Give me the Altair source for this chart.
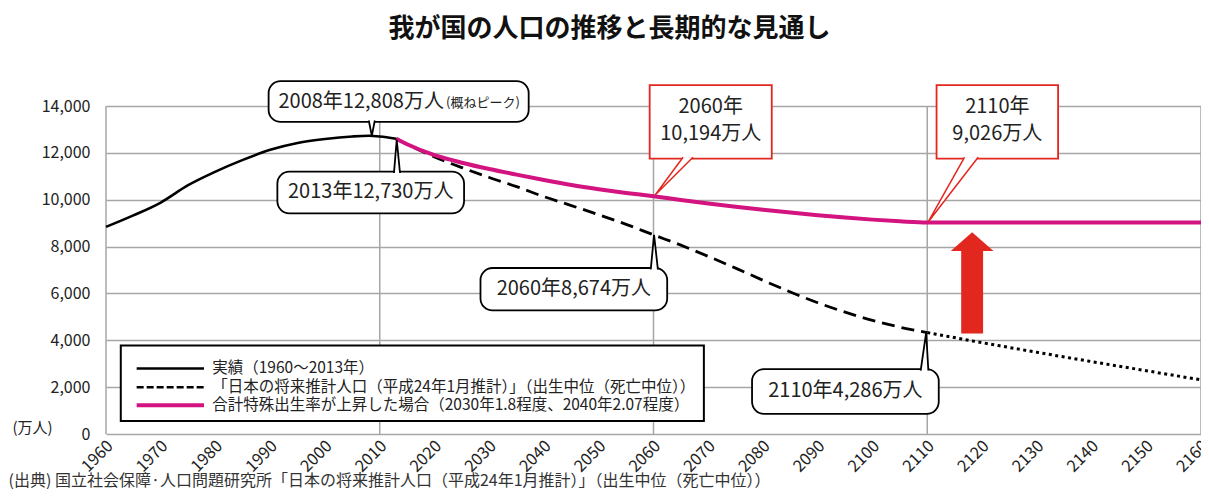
import altair as alt
import pandas as pd

FONT = "Noto Sans CJK JP"
GRID = "#a6a6a6"
PINK = "#d3137f"
RED = "#e2271f"

title_text = "我が国の人口の推移と長期的な見通し"
source_text = "(出典) 国立社会保障·人口問題研究所「日本の将来推計人口（平成24年1月推計）」（出生中位（死亡中位））"
unit_text = "(万人)"

x_ticks = [1960, 1970, 1980, 1990, 2000, 2010, 2020, 2030, 2040, 2050, 2060,
           2070, 2080, 2090, 2100, 2110, 2120, 2130, 2140, 2150, 2160]
y_ticks = [0, 2000, 4000, 6000, 8000, 10000, 12000, 14000]
grid_years = [1960, 2010, 2060, 2110, 2160]

# 実績
actual_years = [1960, 1965, 1970, 1975, 1980, 1985, 1990, 1995, 2000, 2005, 2008, 2010, 2013]
actual_pop = [8840, 9330, 9880, 10620, 11200, 11700, 12130, 12420, 12590, 12700, 12730, 12700, 12600]

# 将来推計（出生中位・死亡中位）
proj_years = [2013, 2015, 2020, 2025, 2030, 2035, 2040, 2045, 2050, 2055, 2060,
              2065, 2070, 2075, 2080, 2085, 2090, 2095, 2100, 2105, 2110]
proj_pop = [12600, 12360, 11830, 11370, 10950, 10560, 10130, 9750, 9360, 8950, 8500,
            8060, 7580, 7080, 6560, 6060, 5600, 5200, 4850, 4560, 4330]

# 参考推計（2110年以降）
ext_years = [2110, 2120, 2130, 2140, 2150, 2160]
ext_pop = [4330, 3900, 3490, 3090, 2700, 2310]

# 出生率が上昇した場合
high_years = [2013, 2015, 2020, 2025, 2030, 2035, 2040, 2045, 2050, 2055, 2060, 2065,
              2070, 2075, 2080, 2085, 2090, 2095, 2100, 2105, 2110, 2120, 2130, 2140, 2150, 2160]
high_pop = [12600, 12370, 11900, 11580, 11310, 11070, 10840, 10630, 10450, 10290, 10150, 9990,
            9840, 9700, 9570, 9450, 9340, 9240, 9150, 9080, 9030, 9030, 9030, 9030, 9030, 9030]

legend_labels = [
    "実績（1960～2013年）",
    "「日本の将来推計人口（平成24年1月推計）」（出生中位（死亡中位））",
    "合計特殊出生率が上昇した場合（2030年1.8程度、2040年2.07程度）",
]

# callouts: text, box (x1, x2, y1, y2), text position, pointer (xa, xb, base y, tip x, tip y)
black_callouts = [
    ("2008年12,808万人", (1989.7, 2037.2, 15060, 13321), (1991.5, 14170), (2008.0, 2009.1, 13321, 2008.55, 12727)),
    ("2013年12,730万人", (1991.3, 2025.4, 11200, 9418), (2008.35, 10309), (2012.6, 2013.7, 11200, 2013.1, 12560)),
    ("2060年8,674万人", (2028.4, 2062.5, 7085, 5273), (2045.45, 6180), (2059.5, 2060.8, 7085, 2060.1, 8500)),
    ("2110年4,286万人", (2078.0, 2112.1, 2770, 861), (2095.05, 1815), (2108.8, 2110.2, 2770, 2109.8, 4330)),
]
red_callouts = [
    (("2060年", "10,194万人"), (2059.3, 2081.6, 14890, 11751), 2070.45, (2065.4, 2067.2, 11751, 2060.3, 10200)),
    (("2110年", "9,026万人"), (2111.7, 2133.9, 14890, 11751), 2122.8, (2116.8, 2119.3, 11751, 2110.2, 9060)),
]
red_line_y = [13957, 12812]

xs = alt.Scale(domain=[1960, 2160], nice=False, zero=False)
ys = alt.Scale(domain=[0, 14000], nice=False)

x_axis = alt.Axis(values=x_ticks, format="d", labelAngle=-45, labelAlign="right", labelBaseline="middle",
                  labelFlush=False, labelPadding=9, labelOffset=4, labelFontSize=16.5, labelColor="#222",
                  labelFont=FONT, ticks=False, domain=False, grid=False,
                  title=source_text, titleX=-98, titleY=46, titleAlign="left", titleBaseline="middle",
                  titleFontSize=16, titleFontWeight="normal", titleColor="#333", titleFont=FONT)
y_axis = alt.Axis(values=y_ticks, format=",d", labelFontSize=16, labelColor="#222", labelPadding=16,
                  labelFont=FONT, ticks=False, domain=False, grid=True, gridColor=GRID, gridWidth=1.5,
                  title=unit_text, titleAngle=0, titleX=-94, titleY=321, titleAlign="left",
                  titleBaseline="middle", titleFontSize=15, titleFontWeight="normal", titleColor="#222",
                  titleFont=FONT)


def X(f):
    return alt.X(f, type="quantitative", scale=xs, axis=x_axis)


def Y(f):
    return alt.Y(f, type="quantitative", scale=ys, axis=y_axis)


def series(years, pops):
    return pd.DataFrame({"year": years, "pop": pops})


def pointer_frames(ptrs):
    area_rows, line_rows = [], []
    for i, (xa, xb, yb, xt, yt) in enumerate(ptrs):
        yb2 = yb - 60 if yt > yb else yb + 60
        area_rows += [{"id": i, "y": yb2, "xa": xa, "xb": xb}, {"id": i, "y": yt, "xa": xt, "xb": xt}]
        line_rows += [{"id": i, "o": 0, "x": xa, "y": yb2}, {"id": i, "o": 1, "x": xt, "y": yt},
                      {"id": i, "o": 2, "x": xb, "y": yb2}]
    return pd.DataFrame(area_rows), pd.DataFrame(line_rows)


def boxes(items):
    return pd.DataFrame([{"x": b[0], "x2": b[1], "y": b[2], "y2": b[3]} for b in items])


vgrid = alt.Chart(pd.DataFrame({"year": grid_years})).mark_rule(
    color=GRID, strokeWidth=1.5).encode(x=X("year"))

dashed = alt.Chart(series(proj_years, proj_pop)).mark_line(
    color="black", strokeWidth=2.8, strokeDash=[13, 7], interpolate="monotone"
).encode(x=X("year"), y=Y("pop"))

dotted = alt.Chart(series(ext_years, ext_pop)).mark_line(
    color="black", strokeWidth=3, strokeDash=[3, 3.5], interpolate="monotone"
).encode(x=X("year"), y=Y("pop"))

high = alt.Chart(series(high_years, high_pop)).mark_line(
    color=PINK, strokeWidth=4, interpolate="monotone"
).encode(x=X("year"), y=Y("pop"))

actual = alt.Chart(series(actual_years, actual_pop)).mark_line(
    color="black", strokeWidth=2.6, interpolate="monotone"
).encode(x=X("year"), y=Y("pop"))

# black rounded callouts
bbox = alt.Chart(boxes([c[1] for c in black_callouts])).mark_rect(
    fill="white", stroke="black", strokeWidth=1.8, cornerRadius=12
).encode(x=X("x"), x2="x2", y=Y("y"), y2="y2")
b_area_df, b_line_df = pointer_frames([c[3] for c in black_callouts])
b_area = alt.Chart(b_area_df).mark_area(orient="horizontal", fill="white").encode(
    y=Y("y"), x=X("xa"), x2="xb", detail="id:N")
b_line = alt.Chart(b_line_df).mark_line(color="black", strokeWidth=1.8).encode(
    x=X("x"), y=Y("y"), detail="id:N", order="o:Q")

b_text_df = pd.DataFrame([{"x": c[2][0], "y": c[2][1], "t": c[0]} for c in black_callouts])
b_text_main = alt.Chart(b_text_df.iloc[1:]).mark_text(
    font=FONT, fontSize=20, color="#222", baseline="middle", align="center"
).encode(x=X("x"), y=Y("y"), text="t:N")
b_text_first = alt.Chart(b_text_df.iloc[:1]).mark_text(
    font=FONT, fontSize=20, color="#222", baseline="middle", align="left"
).encode(x=X("x"), y=Y("y"), text="t:N")
peak_note = alt.Chart(pd.DataFrame({"x": [2022.1], "y": [14140], "t": ["(概ねピーク)"]})).mark_text(
    font=FONT, fontSize=13, color="#222", baseline="middle", align="left"
).encode(x=X("x"), y=Y("y"), text="t:N")

# red square callouts
rbox = alt.Chart(boxes([c[1] for c in red_callouts])).mark_rect(
    fill="white", stroke=RED, strokeWidth=1.8
).encode(x=X("x"), x2="x2", y=Y("y"), y2="y2")
r_area_df, r_line_df = pointer_frames([c[3] for c in red_callouts])
r_area = alt.Chart(r_area_df).mark_area(orient="horizontal", fill="white").encode(
    y=Y("y"), x=X("xa"), x2="xb", detail="id:N")
r_line = alt.Chart(r_line_df).mark_line(color=RED, strokeWidth=1.5).encode(
    x=X("x"), y=Y("y"), detail="id:N", order="o:Q")
r_text_df = pd.DataFrame([{"x": c[2], "y": red_line_y[k], "t": c[0][k]}
                          for c in red_callouts for k in range(2)])
r_text = alt.Chart(r_text_df).mark_text(
    font=FONT, fontSize=20, color="#222", baseline="middle", align="center"
).encode(x=X("x"), y=Y("y"), text="t:N")

# red up arrow
shaft = alt.Chart(pd.DataFrame({"x": [2116.2], "x2": [2120.2], "y": [4285], "y2": [7850]})).mark_rect(
    color=RED).encode(x=X("x"), x2="x2", y=Y("y"), y2="y2")
head = alt.Chart(pd.DataFrame({"id": [0, 0], "y": [7806, 8612], "xa": [2114.3, 2118.2],
                               "xb": [2122.1, 2118.2]})).mark_area(orient="horizontal", color=RED).encode(
    y=Y("y"), x=X("xa"), x2="xb", detail="id:N")

# legend
leg_box = alt.Chart(pd.DataFrame({"x": [1962.7], "x2": [2069.2], "y": [3776], "y2": [552]})).mark_rect(
    fill="white", stroke="black", strokeWidth=2).encode(x=X("x"), x2="x2", y=Y("y"), y2="y2")
leg_y = [2800, 1994, 1230]
leg_styles = [dict(color="black", strokeWidth=2.5), dict(color="black", strokeWidth=2.5, strokeDash=[7, 3]),
              dict(color=PINK, strokeWidth=4)]
leg_rules = [
    alt.Chart(pd.DataFrame({"x": [1965.6], "x2": [1977.9], "y": [leg_y[k]]})).mark_rule(**leg_styles[k]).encode(
        x=X("x"), x2="x2", y=Y("y"))
    for k in range(3)
]
leg_text = alt.Chart(pd.DataFrame({"x": [1979.4] * 3, "y": leg_y, "t": legend_labels})).mark_text(
    font=FONT, fontSize=15.5, color="#222", baseline="middle", align="left"
).encode(x=X("x"), y=Y("y"), text="t:N")

chart = alt.layer(
    vgrid, dashed, dotted, high, actual,
    bbox, b_area, b_line, b_text_first, b_text_main, peak_note,
    rbox, r_area, r_line, r_text,
    shaft, head,
    leg_box, *leg_rules, leg_text,
).properties(
    width=1095, height=328,
    padding={"left": 98, "top": 98, "right": 0, "bottom": 55},
    autosize=alt.AutoSizeParams(type="none"),
    title=alt.Title(title_text, font=FONT, fontSize=26, fontWeight="bold", color="#111",
                    anchor="middle", frame="bounds", offset=38),
).configure_view(stroke=None)

chart.save("out.html", embed_options={"renderer": "svg", "actions": False})
